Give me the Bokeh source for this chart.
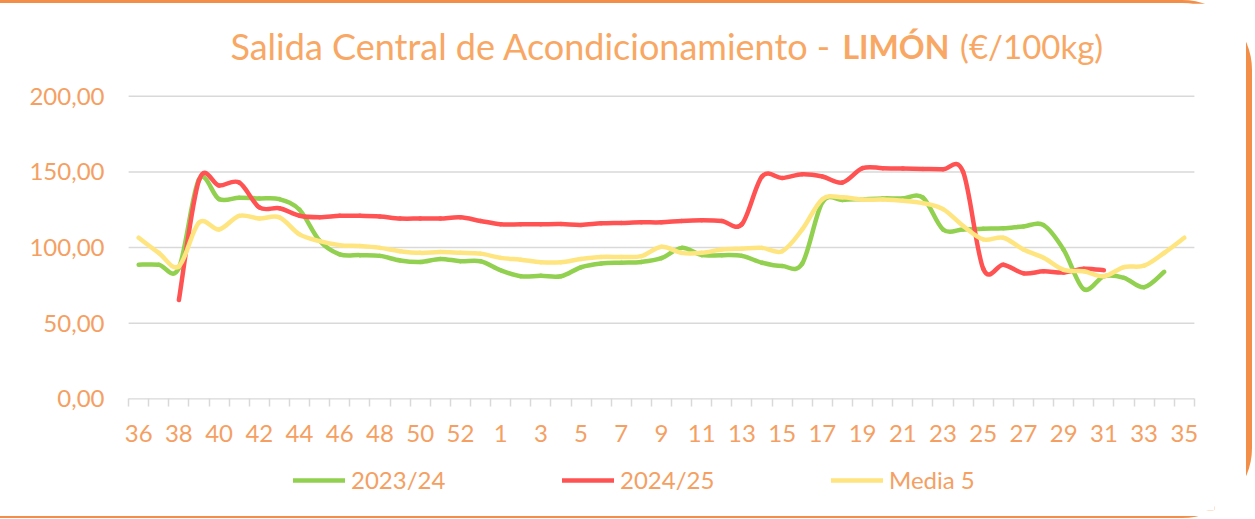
from bokeh.plotting import figure
from bokeh.models import Range1d, FixedTicker, Legend, LegendItem, Label
from bokeh.embed import file_html
from bokeh.resources import INLINE

# ---------------- data ----------------
weeks = ["36", "37", "38", "39", "40", "41", "42", "43", "44", "45", "46", "47",
         "48", "49", "50", "51", "52", "53", "1", "2", "3", "4", "5", "6", "7",
         "8", "9", "10", "11", "12", "13", "14", "15", "16", "17", "18", "19",
         "20", "21", "22", "23", "24", "25", "26", "27", "28", "29", "30", "31",
         "32", "33", "34", "35"]

s_2023_24 = [88.7, 88.7, 86.5, 145.0, 132.0, 133.0, 132.5, 132.0, 125.0, 104.5,
             95.5, 95.0, 94.5, 91.5, 90.5, 92.5, 91.0, 91.0, 85.0, 81.0, 81.3,
             81.0, 87.0, 89.5, 90.0, 90.5, 93.0, 99.8, 95.0, 95.0, 94.5, 90.0,
             87.8, 89.5, 130.0, 131.5, 132.0, 132.5, 132.5, 133.0, 112.0, 112.0,
             112.5, 112.7, 114.0, 114.8, 98.5, 72.5, 81.0, 80.0, 73.8, 84.0, None]

s_2024_25 = [None, None, 65.3, 144.5, 141.0, 143.0, 126.5, 126.0, 121.0, 120.0,
             121.0, 121.0, 120.5, 119.2, 119.2, 119.2, 120.0, 117.6, 115.4, 115.4,
             115.4, 115.5, 115.0, 116.0, 116.3, 116.7, 116.7, 117.6, 118.0, 117.6,
             115.5, 147.0, 146.0, 148.5, 147.0, 143.0, 152.5, 152.5, 152.2, 152.0,
             151.7, 150.0, 86.0, 88.7, 83.0, 84.3, 83.5, 86.0, 85.0, None, None,
             None, None]

media_5 = [106.5, 96.5, 87.6, 116.5, 112.0, 121.0, 119.2, 120.0, 108.7, 104.3,
           101.6, 101.0, 99.8, 97.6, 96.5, 97.0, 96.5, 96.0, 93.2, 92.0, 90.3,
           90.3, 92.5, 93.8, 93.8, 94.3, 100.5, 96.5, 96.5, 98.7, 99.3, 99.8,
           97.6, 112.0, 132.0, 133.2, 131.7, 131.7, 131.0, 129.4, 125.4, 114.3,
           105.4, 106.5, 98.7, 93.2, 85.3, 84.3, 81.0, 87.1, 88.0, 96.5, 106.5]

series_names = ["2023/24", "2024/25", "Media 5"]
y_ticks = [0, 50, 100, 150, 200]
y_tick_labels = ["0,00", "50,00", "100,00", "150,00", "200,00"]

# ---------------- styling ----------------
FONT = "Lato"
TXT = "#F5A062"
TITLE_C = "#F8A864"
GRID = "#D9D9D9"
ORANGE = "#F28E47"
colors = ["#92D050", "#FF5353", "#FFE57F"]


def smooth_segments(values):
    """Cubic Bezier segments (Catmull-Rom style, like a smoothed spreadsheet line)."""
    pts = [(float(i), v) for i, v in enumerate(values) if v is not None]
    d = dict(x0=[], y0=[], x1=[], y1=[], cx0=[], cy0=[], cx1=[], cy1=[])
    n = len(pts)
    for k in range(n - 1):
        p0 = pts[k - 1] if k > 0 else pts[k]
        p1 = pts[k]
        p2 = pts[k + 1]
        p3 = pts[k + 2] if k + 2 < n else pts[k + 1]
        d["x0"].append(p1[0]); d["y0"].append(p1[1])
        d["x1"].append(p2[0]); d["y1"].append(p2[1])
        d["cx0"].append(p1[0] + (p2[0] - p0[0]) / 6.0)
        d["cy0"].append(p1[1] + (p2[1] - p0[1]) / 6.0)
        d["cx1"].append(p2[0] - (p3[0] - p1[0]) / 6.0)
        d["cy1"].append(p2[1] - (p3[1] - p1[1]) / 6.0)
    return d


n_cat = len(weeks)
# The frame spans the title area above and the legend area below, plus one
# category of padding left/right so edge tick labels are not clipped.
p = figure(width=1246, height=513, output_backend="svg", toolbar_location=None,
           x_range=Range1d(-1.5, n_cat + 0.5), y_range=Range1d(-73.8, 253.4),
           min_border_left=108, min_border_right=38, min_border_top=12,
           min_border_bottom=11)
p.styles = {
    "box-sizing": "content-box",
    "border-top": "3px solid " + ORANGE,
    "border-right": "6px solid " + ORANGE,
    "border-bottom": "2px solid " + ORANGE,
    "border-top-right-radius": "70px",
    "border-bottom-right-radius": "70px",
}
p.outline_line_color = None
p.background_fill_color = "white"
p.border_fill_color = "white"

# horizontal grid lines (incl. the baseline at 0) limited to the category span
p.xgrid.grid_line_color = None
p.ygrid.grid_line_color = None
p.segment(x0=[-0.5] * len(y_ticks), x1=[n_cat - 0.5] * len(y_ticks),
          y0=y_ticks, y1=y_ticks, line_color=GRID, line_width=1.4)

# y axis
p.yaxis.ticker = FixedTicker(ticks=y_ticks)
p.yaxis.major_label_overrides = {t: l for t, l in zip(y_ticks, y_tick_labels)}
p.yaxis.axis_line_color = None
p.yaxis.major_tick_line_color = None
p.yaxis.minor_tick_line_color = None
p.yaxis.major_tick_in = 0
p.yaxis.major_tick_out = 0
p.yaxis.major_label_standoff = 4
p.yaxis.major_label_text_font = FONT
p.yaxis.major_label_text_font_size = "24px"
p.yaxis.major_label_text_color = TXT

# x axis (pinned at y = 0)
even_idx = list(range(0, n_cat, 2))
p.xaxis.fixed_location = 0
p.xaxis.ticker = FixedTicker(ticks=even_idx,
                             minor_ticks=[k - 0.5 for k in range(n_cat + 1)])
p.xaxis.major_label_overrides = {i: weeks[i] for i in even_idx}
p.xaxis.axis_line_color = None
p.xaxis.major_tick_line_color = None
p.xaxis.major_tick_in = 0
p.xaxis.major_tick_out = 0
p.xaxis.minor_tick_line_color = GRID
p.xaxis.minor_tick_line_width = 1.5
p.xaxis.minor_tick_in = 0
p.xaxis.minor_tick_out = 8
p.xaxis.major_label_standoff = 18
p.xaxis.major_label_text_font = FONT
p.xaxis.major_label_text_font_size = "24px"
p.xaxis.major_label_text_color = TXT

# lines
renderers = []
for vals, col in zip([s_2023_24, s_2024_25, media_5], colors):
    r = p.bezier(source=smooth_segments(vals), x0="x0", y0="y0", x1="x1", y1="y1",
                 cx0="cx0", cy0="cy0", cx1="cx1", cy1="cy1",
                 line_color=col, line_width=4.5, line_cap="round")
    renderers.append(r)

legend = Legend(items=[LegendItem(label=n, renderers=[r]) for n, r in zip(series_names, renderers)],
                orientation="horizontal", location=(185, 16),
                glyph_width=52, glyph_height=20, label_standoff=6, spacing=111,
                label_width=100, padding=0, margin=0,
                border_line_color=None, background_fill_alpha=0,
                label_text_font=FONT, label_text_font_size="24px",
                label_text_color=TXT)
p.add_layout(legend)

# title (mixed weight), drawn inside the extended frame
title_y = 233.0
p.add_layout(Label(x=34.45, y=title_y, text="Salida Central de Acondicionamiento -",
                   text_align="right", text_baseline="middle",
                   text_font=FONT, text_font_size="36px", text_color=TITLE_C))
p.add_layout(Label(x=35.0, y=title_y, text="LIMÓN", text_align="left",
                   text_baseline="middle", text_font=FONT, text_font_style="bold",
                   text_font_size="32px", text_color=TITLE_C))
p.add_layout(Label(x=40.85, y=title_y, text="(€/100kg)", text_align="left",
                   text_baseline="middle", text_font=FONT,
                   text_font_size="33px", text_color=TITLE_C))

open("out.html", "w").write(file_html(p, INLINE))
